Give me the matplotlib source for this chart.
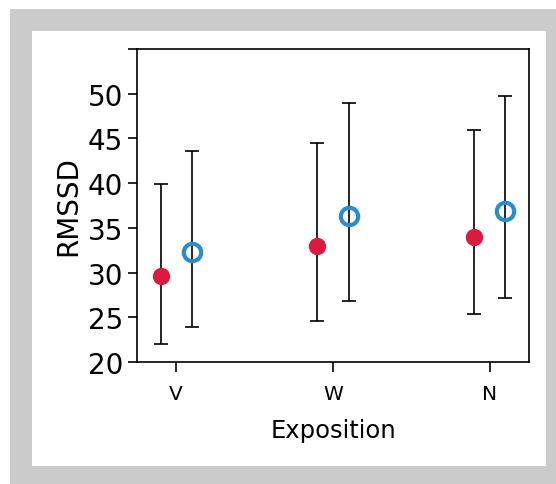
import matplotlib.pyplot as plt
from matplotlib.patches import Rectangle
import numpy as np

groups = ['V', 'W', 'N']
red_mean = [29.6, 33.0, 34.0]
red_low = [22.0, 24.6, 25.35]
red_high = [39.85, 44.5, 45.9]
blue_mean = [32.25, 36.3, 36.9]
blue_low = [23.95, 26.85, 27.2]
blue_high = [43.6, 49.0, 49.8]

red = '#dc1a40'
blue = '#2b8bd0'

fig = plt.figure(figsize=(5.56, 4.85), dpi=100)

# grey frame and white panel behind the plot
fig.patches.append(Rectangle((10 / 556, 0), 546 / 556, 475 / 485, transform=fig.transFigure,
                             facecolor='#cbcbcb', edgecolor='none', zorder=-2))
fig.patches.append(Rectangle((32 / 556, 18 / 485), 514 / 556, 435 / 485, transform=fig.transFigure,
                             facecolor='white', edgecolor='none', zorder=-1))

ax = fig.add_axes([137 / 556, 122 / 485, 392 / 556, 313 / 485])
ax.patch.set_alpha(0)

x = np.arange(len(groups))
off = 0.1

rm = np.array(red_mean)
bm = np.array(blue_mean)
ax.errorbar(x - off, rm, yerr=[rm - np.array(red_low), np.array(red_high) - rm],
            fmt='none', ecolor='black', elinewidth=1.2, capsize=5, capthick=1.2, zorder=2)
ax.errorbar(x + off, bm, yerr=[bm - np.array(blue_low), np.array(blue_high) - bm],
            fmt='none', ecolor='black', elinewidth=1.2, capsize=5, capthick=1.2, zorder=2)
ax.plot(x - off, rm, 'o', color=red, markersize=12.5, markeredgewidth=0, zorder=3)
ax.plot(x + off, bm, 'o', markerfacecolor='none', markeredgecolor=blue, markersize=12.5,
        markeredgewidth=3, zorder=3)

ax.set_xlim(-0.25, 2.25)
ax.set_ylim(20, 55)
ax.set_yticks([20, 25, 30, 35, 40, 45, 50, 55])
ax.set_yticklabels(['20', '25', '30', '35', '40', '45', '50', ''], fontsize=20)
ax.set_xticks(x)
ax.set_xticklabels(groups, fontsize=14.5)

for s in ax.spines.values():
    s.set_linewidth(1.2)
ax.tick_params(axis='y', length=6.5, width=1.2, pad=3.5)
ax.tick_params(axis='x', length=7.5, width=1.2, pad=8)

ax.set_ylabel('RMSSD', fontsize=20, labelpad=4)
ax.set_xlabel('Exposition', fontsize=17.5, labelpad=11)

plt.savefig('out.png', dpi=100)
